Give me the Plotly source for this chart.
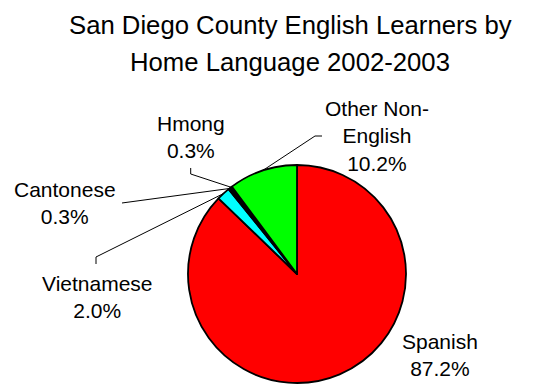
import math
import plotly.graph_objects as go

# Home language shares of San Diego County English learners, 2002-2003
languages = ["Spanish", "Vietnamese", "Cantonese", "Hmong", "Other Non-English"]
shares = [87.2, 2.0, 0.3, 0.3, 10.2]
slice_colors = ["#FF0000", "#00FFFF", "#000080", "#1A1A1A", "#00FF00"]
label_text = ["Spanish", "Vietnamese", "Cantonese", "Hmong", "Other Non-<br>English"]

W, H = 535, 385
FONT = "Arial, 'Liberation Sans', sans-serif"

# Pie placement in pixels (center and radius)
cx, cy, r = 297, 274, 109
dom_x = [(cx - r) / W, (cx + r) / W]
dom_y = [1 - (cy + r) / H, 1 - (cy - r) / H]

# Label centres (pixels) and leader-line waypoints from the label toward its slice
label_pos = {
    "Spanish": (440, 355),
    "Vietnamese": (97, 297),
    "Cantonese": (65, 203),
    "Hmong": (191, 137),
    "Other Non-English": (377, 136),
}
leader_from = {
    "Vietnamese": [(96, 264), (96, 257)],
    "Cantonese": [(122, 203)],
    "Hmong": [(190.7, 168), (190.7, 174)],
    "Other Non-English": [(322, 136), (315, 136)],
}


def px(x, y):
    return x / W, 1 - y / H


fig = go.Figure(
    go.Pie(
        labels=languages,
        values=shares,
        sort=False,
        direction="clockwise",
        rotation=0,
        marker=dict(colors=slice_colors, line=dict(color="black", width=1.8)),
        textinfo="none",
        hoverinfo="label+percent",
        domain=dict(x=dom_x, y=dom_y),
        showlegend=False,
    )
)

annotations = []
shapes = []

# Title, two centred lines
for text, y in [("San Diego County English Learners by", 25), ("Home Language 2002-2003", 62)]:
    ax, ay = px(290, y)
    annotations.append(dict(
        text=text, x=ax, y=ay, xref="paper", yref="paper",
        xanchor="center", yanchor="middle", showarrow=False,
        font=dict(family=FONT, size=25.7, color="black"),
    ))

cum = 0.0
total = sum(shares)
for name, val, txt in zip(languages, shares, label_text):
    mid = (cum + val / 2) / total * 2 * math.pi
    cum += val
    lx, ly = label_pos[name]
    ax, ay = px(lx, ly)
    annotations.append(dict(
        text=f"{txt}<br>{val:.1f}%", x=ax, y=ay, xref="paper", yref="paper",
        xanchor="center", yanchor="middle", showarrow=False, align="center",
        font=dict(family=FONT, size=21, color="black"),
    ))
    if name in leader_from:
        end = (cx + r * math.sin(mid), cy - r * math.cos(mid))
        pts = leader_from[name] + [end]
        path = ""
        for i, (x, y) in enumerate(pts):
            pxx, pyy = px(x, y)
            path += ("M" if i == 0 else "L") + f"{pxx:.5f},{pyy:.5f} "
        shapes.append(dict(
            type="path", path=path.strip(), xref="paper", yref="paper",
            line=dict(color="black", width=1),
        ))

fig.update_layout(
    width=W, height=H,
    margin=dict(l=0, r=0, t=0, b=0),
    paper_bgcolor="white", plot_bgcolor="white",
    annotations=annotations, shapes=shapes,
)

fig.write_html("out.html")
